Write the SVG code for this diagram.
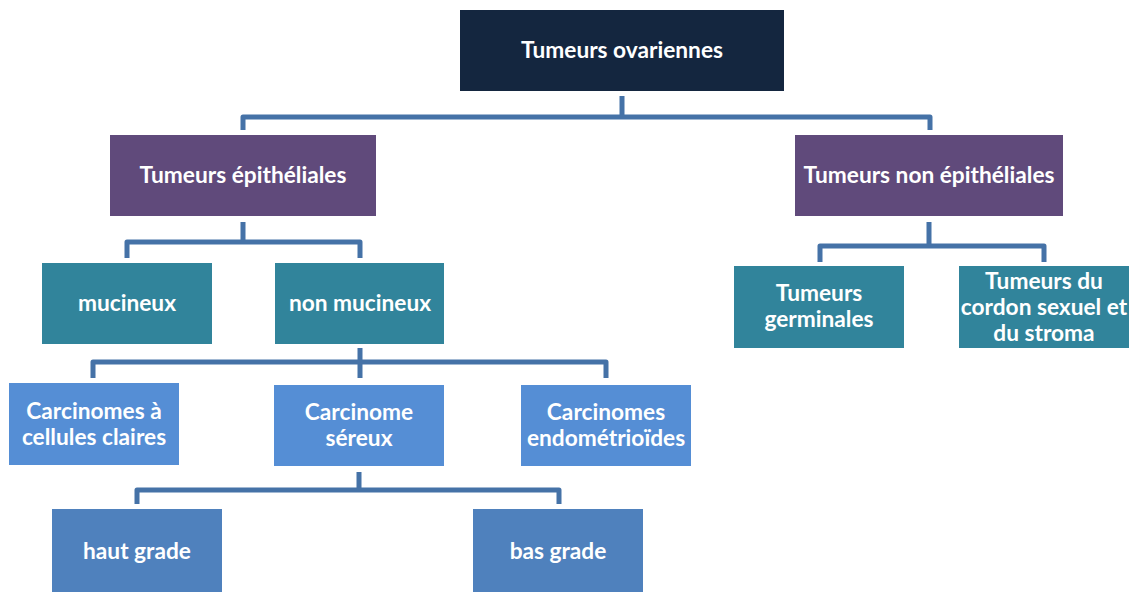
<svg xmlns="http://www.w3.org/2000/svg" width="1137" height="592" viewBox="0 0 1137 592">
<style>
.t{font-family:Lato,"Open Sans",sans-serif;font-weight:bold;font-size:22.7px;fill:#fff;text-anchor:middle}
.c{fill:none;stroke:#4572a7;stroke-width:5;stroke-linejoin:round}
.n0{fill:#14263f}.n1{fill:#604a7b}.n2{fill:#31849b}.n3{fill:#558ed5}.n4{fill:#4f81bd}
</style>
<g id="connectors">
<path class="c" d="M622,96 V117 M243,130 V117 H930 V130"/>
<path class="c" d="M243,222 V242 M127,258 V242 H360 V258"/>
<path class="c" d="M929,222 V246 M820,262 V246 H1044 V262"/>
<path class="c" d="M360,348 V378 M93,378 V362 H606 V378"/>
<path class="c" d="M359,472 V490 M137,504 V490 H559 V504"/>
</g>
<g id="n-root"><rect class="n0" x="460" y="10" width="324" height="81"/><text class="t" x="622" y="58">Tumeurs ovariennes</text></g>
<g id="n-epi"><rect class="n1" x="110" y="135" width="266" height="81"/><text class="t" x="243" y="183">Tumeurs épithéliales</text></g>
<g id="n-nonepi"><rect class="n1" x="795" y="135" width="268" height="81"/><text class="t" x="929" y="183">Tumeurs non épithéliales</text></g>
<g id="n-muc"><rect class="n2" x="42" y="263" width="170" height="81"/><text class="t" x="127" y="311">mucineux</text></g>
<g id="n-nonmuc"><rect class="n2" x="275" y="263" width="169" height="81"/><text class="t" x="360" y="311">non mucineux</text></g>
<g id="n-germ"><rect class="n2" x="734" y="266" width="170" height="82"/><text class="t" x="819" y="301">Tumeurs<tspan x="819" dy="26">germinales</tspan></text></g>
<g id="n-cordon"><rect class="n2" x="959" y="266" width="170" height="82"/><text class="t" x="1044" y="289">Tumeurs du<tspan x="1044" dy="26">cordon sexuel et</tspan><tspan x="1044" dy="26">du stroma</tspan></text></g>
<g id="n-claires"><rect class="n3" x="9" y="383" width="170" height="82"/><text class="t" x="94" y="419">Carcinomes à<tspan x="94" dy="26">cellules claires</tspan></text></g>
<g id="n-sereux"><rect class="n3" x="274" y="385" width="170" height="81"/><text class="t" x="359" y="420">Carcinome<tspan x="359" dy="26">séreux</tspan></text></g>
<g id="n-endo"><rect class="n3" x="521" y="385" width="170" height="81"/><text class="t" x="606" y="420">Carcinomes<tspan x="606" dy="26">endométrioïdes</tspan></text></g>
<g id="n-haut"><rect class="n4" x="52" y="509" width="170" height="83"/><text class="t" x="137" y="559">haut grade</text></g>
<g id="n-bas"><rect class="n4" x="473" y="509" width="170" height="83"/><text class="t" x="558" y="559">bas grade</text></g>
</svg>
